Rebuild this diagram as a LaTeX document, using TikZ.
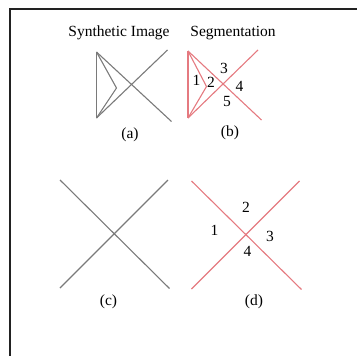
\documentclass[tikz,border=0pt]{standalone}
\usepackage{fontspec}
\setmainfont{Liberation Serif}
\usetikzlibrary{positioning}
\definecolor{imggray}{HTML}{7A7A7A}
\definecolor{segred}{HTML}{E57A80}
\definecolor{framek}{HTML}{222222}
\tikzset{
  txt/.style={inner sep=0pt, font=\fontsize{15.5}{18}\selectfont},
  imgline/.style={draw=imggray, line width=1.1pt},
  segline/.style={draw=segred, line width=1.1pt},
  frameline/.style={draw=framek, line width=1.6pt}
}

\begin{document}
\begin{tikzpicture}[x=1pt, y=-1pt]
    \useasboundingbox (0,0) rectangle (357,356);
    % frame (left and top edges)
    \draw[frameline] (10,356) -- (10,9) -- (357,9);

    % titles
    \node[txt] (tsyn) at (119,33) {Synthetic Image};
    \node[txt] (tseg) at (233,33) {Segmentation};

    % (a) synthetic image
    \coordinate (atop) at (96.5,52);
    \coordinate (abot) at (96.5,118);
    \coordinate (atip) at (116.5,88);
    \coordinate (aur) at (167.5,50);
    \coordinate (alr) at (171.5,121.5);
    \draw[imgline] (atop) -- (abot);
    \draw[imgline] (atop) -- (atip) -- (abot);
    \draw[imgline] (atop) -- (alr);
    \draw[imgline] (abot) -- (aur);
    \node[txt] (capa) at (130,135) {(a)};

    % (b) segmentation
    \coordinate (btop) at (188,51);
    \coordinate (bbot) at (188,118);
    \coordinate (btip) at (206.5,86.5);
    \coordinate (bur) at (258,50);
    \coordinate (blr) at (261.5,120);
    \draw[segline] (btop) -- (bbot);
    \draw[segline] (btop) -- (btip) -- (bbot);
    \draw[segline] (btop) -- (blr);
    \draw[segline] (bbot) -- (bur);
    \node[txt] (b1) at (196.5,80) {1};
    \node[txt] (b2) at (211,82.5) {2};
    \node[txt] (b3) at (224,68.5) {3};
    \node[txt] (b4) at (239.5,86) {4};
    \node[txt] (b5) at (227,101.5) {5};
    \node[txt] (capb) at (230,133) {(b)};

    % (c) synthetic image
    \coordinate (cul) at (60,180);
    \coordinate (cur) at (168,180);
    \coordinate (cll) at (60,288);
    \coordinate (clr) at (169.5,288.5);
    \draw[imgline] (cul) -- (clr);
    \draw[imgline] (cll) -- (cur);
    \node[txt] (capc) at (108.5,301.5) {(c)};

    % (d) segmentation
    \coordinate (dul) at (191.5,181);
    \coordinate (dur) at (299.5,181);
    \coordinate (dll) at (191.5,289);
    \coordinate (dlr) at (301.5,289.5);
    \draw[segline] (dul) -- (dlr);
    \draw[segline] (dll) -- (dur);
    \node[txt] (d1) at (214.5,230) {1};
    \node[txt] (d2) at (246,207) {2};
    \node[txt] (d3) at (270,236) {3};
    \node[txt] (d4) at (247.5,251.5) {4};
    \node[txt] (capd) at (254,301.5) {(d)};
\end{tikzpicture}
\end{document}
